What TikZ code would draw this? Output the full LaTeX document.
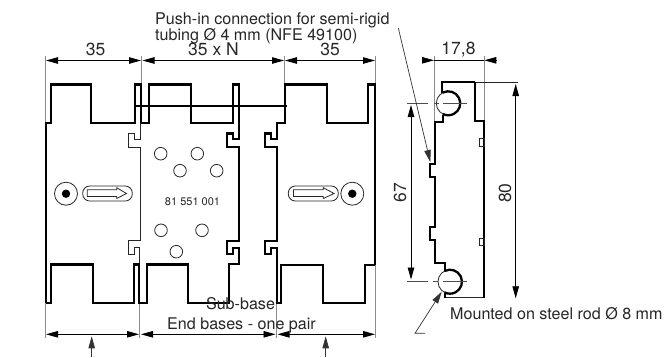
\documentclass[tikz,border=0pt]{standalone}
\usepackage{fontspec}
\setmainfont{TeX Gyre Heros}
\usetikzlibrary{arrows.meta}
\tikzset{
  outline/.style={line width=2.3pt,line join=miter,black},
  thinline/.style={line width=0.8pt,black!85},
  extline/.style={line width=0.9pt,black!45},
  dimline/.style={line width=0.8pt,black,{Triangle[length=12pt,width=6.5pt]}-{Triangle[length=12pt,width=6.5pt]}},
  leader/.style={line width=0.7pt,black!80,-{Triangle[length=12pt,width=6.5pt]}},
  center line/.style={line width=0.7pt,black!70},
  hole/.style={line width=0.8pt,black!85},
  label/.style={inner sep=0pt,font=\fontsize{16.1}{18}\selectfont,text=black!85},
  dimlabel/.style={inner sep=0pt,font=\fontsize{17.5}{19}\selectfont,text=black!85},
  slot/.style={line width=0.8pt,black!85,rounded corners=7pt},
}
\begin{document}
\begin{tikzpicture}[x=1pt,y=-1pt]
\useasboundingbox (0,0) rectangle (667,357);
% extension lines
\draw[extline] (45.5,56) -- (45.5,123);
\draw[extline] (45.5,303) -- (45.5,338);
\draw[extline] (141,56) -- (141,84);
\draw[extline] (139.3,303) -- (139.3,338);
\draw[extline] (284,56) -- (284,84);
\draw[extline] (276.5,303) -- (276.5,338);
\draw[extline] (375,56) -- (375,84);
\draw[extline] (375,265) -- (375,338);
% left module
\draw[outline] (46,303) -- (46,122.7) -- (51,122.7) -- (51,84.5) -- (91.3,84.5) -- (91.3,122.7) -- (135,122.7) -- (135,84.5) -- (141,84.5) -- (141,122.7);
\draw[thinline] (140.5,122.7) -- (140.5,139) -- (134.5,139) -- (134.5,133.5) -- (128,133.5) -- (128,147) -- (140.5,147) -- (140.5,240) -- (128,240) -- (128,254.3) -- (134,254.3) -- (134,247.7) -- (139.5,247.7) -- (139.5,265);
\draw[outline] (46,302.7) -- (51,302.7) -- (51,264.5) -- (93,264.5) -- (93,302.7) -- (134,302.7) -- (134,264.5) -- (139.3,264.5) -- (139.3,302.7) -- (146.7,302.7) -- (146.7,264.5) -- (188,264.5) -- (188,302.7) -- (229.3,302.7) -- (229.3,264.3) -- (239.3,264.3) -- (239.3,247.7) -- (233.3,247.7) -- (233.3,254.3) -- (227.3,254.3) -- (227.3,241) -- (239.3,241) -- (239.3,147) -- (227.3,147) -- (227.3,133.5) -- (233.3,133.5) -- (233.3,139) -- (239.3,139) -- (239.3,84.5) -- (233.3,84.5) -- (233.3,122.7) -- (191,122.7) -- (191,84.5) -- (149,84.5) -- (149,122.7) -- (141,122.7);
% right module
\draw[outline] (375,265) -- (375,84.5) -- (368.3,84.5) -- (368.3,122.7) -- (326.7,122.7) -- (326.7,84.5) -- (285,84.5) -- (285,122.7) -- (276.7,122.7) -- (276.7,139) -- (271,139) -- (271,133.5) -- (265,133.5) -- (265,147) -- (276.7,147) -- (276.7,241) -- (265,241) -- (265,254.3) -- (271,254.3) -- (271,247.7) -- (276.7,247.7) -- (276.7,302.7) -- (281,302.7) -- (281,264.7) -- (323.3,264.7) -- (323.3,302.7) -- (365,302.7) -- (365,264.7) -- (375,264.7);
% tube
\draw[outline] (135,106) -- (287,106);
% dimension lines
\coordinate (t0) at (46,60.5); \coordinate (t1) at (141,60.5);
\coordinate (t2) at (142.5,60.5); \coordinate (t3) at (284,60.5);
\coordinate (t4) at (285,60.5); \coordinate (t5) at (375,60.5);
\draw[dimline] (t0) -- (t1);
\draw[dimline] (t2) -- (t3);
\draw[dimline] (t4) -- (t5);
\coordinate (b0) at (46,334.3); \coordinate (b1) at (139,334.3);
\coordinate (b2) at (141,334.3); \coordinate (b3) at (275.5,334.3);
\coordinate (b4) at (277.5,334.3); \coordinate (b5) at (375,334.3);
\draw[dimline] (b0) -- (b1);
\draw[dimline] (b2) -- (b3);
\draw[dimline] (b4) -- (b5);
% pointers from below
\coordinate (p1s) at (91.7,357); \coordinate (p1e) at (91.7,336.3);
\coordinate (p2s) at (325.7,357); \coordinate (p2e) at (325.7,336.3);
\draw[leader] (p1s) -- (p1e);
\draw[leader] (p2s) -- (p2e);
% left fixing
\draw[hole] (66,193.7) circle (11.5);
\fill[black] (66,193.7) circle (4.2);
\draw[slot] (82.7,186) rectangle (132.3,201);
\draw[hole] (87.3,189.7) -- (116.7,189.7) -- (116.7,187.7) -- (126.5,193.5) -- (116.7,198.5) -- (116.7,196.5) -- (87.3,196.5) -- cycle;
% right fixing
\draw[hole] (352.3,193.7) circle (11.5);
\fill[black] (352.3,193.7) circle (4.2);
\draw[slot] (288.3,186) rectangle (338.3,201);
\draw[hole] (293.5,189.7) -- (323.3,189.7) -- (323.3,187.7) -- (334,193.5) -- (323.3,198.5) -- (323.3,196.5) -- (293.5,196.5) -- cycle;
% holes
\foreach \hx/\hy in {160.7/153.7,197.3/153.7,180/170.7,216.7/170.7,161/230.3,202/230.3,176.3/251.7}
  \draw[hole] (\hx,\hy) circle (6.3);
% side view
\draw[extline] (434,56) -- (434,122);
\draw[extline] (484.3,56) -- (484.3,121);
\draw[thinline] (475,82.3) -- (518.3,82.3);
\draw[thinline] (445,297.7) -- (484,297.7);
\draw[outline] (475,82.3) -- (442.3,82.3) -- (442.3,92.5);
\draw[outline] (475,82.3) -- (475,120.7) -- (484,120.7) -- (484,297.7);
\draw[outline] (443.3,114.7) -- (443.3,121.7) -- (435,121.7) -- (435,164) -- (430,164) -- (430,177) -- (435,177) -- (435,226.7) -- (430,226.7) -- (430,240) -- (435,240) -- (435,262.7) -- (445,262.7) -- (445,271);
\draw[outline] (445,297.7) -- (445,293);
\draw[hole] (448.3,103.3) circle (12);
\draw[hole] (450,281.7) circle (12);
\draw[outline] (442.8,92.6) arc[start angle=-117,end angle=117,radius=12,y=-1pt,x=1pt] ;
\draw[outline] (444.5,271) arc[start angle=-117,end angle=117,radius=12] ;
\draw[hole] (479,138.3) rectangle (484,146);
\draw[hole] (479,238.3) rectangle (484,245.7);
\draw[center line] (407,103.3) -- (428,103.3) (434,103.3) -- (439,103.3) (443,103.3) -- (467,103.3);
\draw[center line] (407,281.7) -- (427.5,281.7) (433,281.7) -- (437.5,281.7) (443,281.7) -- (467,281.7);
% 17,8
\coordinate (w0) at (422.3,60.3); \coordinate (w1) at (434,60.3);
\coordinate (w2) at (484.3,60.3); \coordinate (w3) at (497.3,60.3);
\draw[line width=0.8pt] (w1) -- (w2);
\draw[line width=0.8pt,-{Triangle[length=12pt,width=6.5pt]}] (w0) -- (w1);
\draw[line width=0.8pt,-{Triangle[length=12pt,width=6.5pt]}] (w3) -- (w2);
% 67, 80
\coordinate (v0) at (411,105); \coordinate (v1) at (411,279.5);
\coordinate (u0) at (515.7,84); \coordinate (u1) at (515.7,298.3);
\draw[dimline] (v0) -- (v1);
\draw[dimline] (u0) -- (u1);
% leaders
\coordinate (l0) at (398.3,28); \coordinate (l1) at (430.3,162);
\draw[leader] (l0) -- (l1);
\coordinate (m0) at (425,333.3); \coordinate (m1) at (415,333.3); \coordinate (m2) at (441.7,291.7);
\draw[leader] (m0) -- (m1) -- (m2);
% texts
\node[label,anchor=base west] (push1) at (155,24) {Push-in connection for semi-rigid};
\node[label,anchor=base west] (push2) at (155,40) {tubing Ø 4 mm (NFE 49100)};
\node[dimlabel,anchor=center] (d1) at (95.5,49.5) {35};
\node[dimlabel,anchor=center] (d2) at (213.5,49.5) {35 x N};
\node[dimlabel,anchor=center] (d3) at (330,49.5) {35};
\node[dimlabel,anchor=center] (d4) at (458.5,49.5) {17,8};
\node[dimlabel,anchor=center,rotate=90] (d5) at (400,192.7) {67};
\node[dimlabel,anchor=center,rotate=90] (d6) at (505,193) {80};
\node[inner sep=0pt,font=\fontsize{11}{12}\selectfont,text=black!85] (ref) at (192.5,202) {81 551 001};
\node[label,anchor=center] (sub) at (240.5,304) {Sub-base};
\node[label,anchor=center] (endb) at (241.5,325) {End bases - one pair};
\node[label,anchor=west] (rod) at (450,314) {Mounted on steel rod Ø 8 mm};
\end{tikzpicture}
\end{document}
